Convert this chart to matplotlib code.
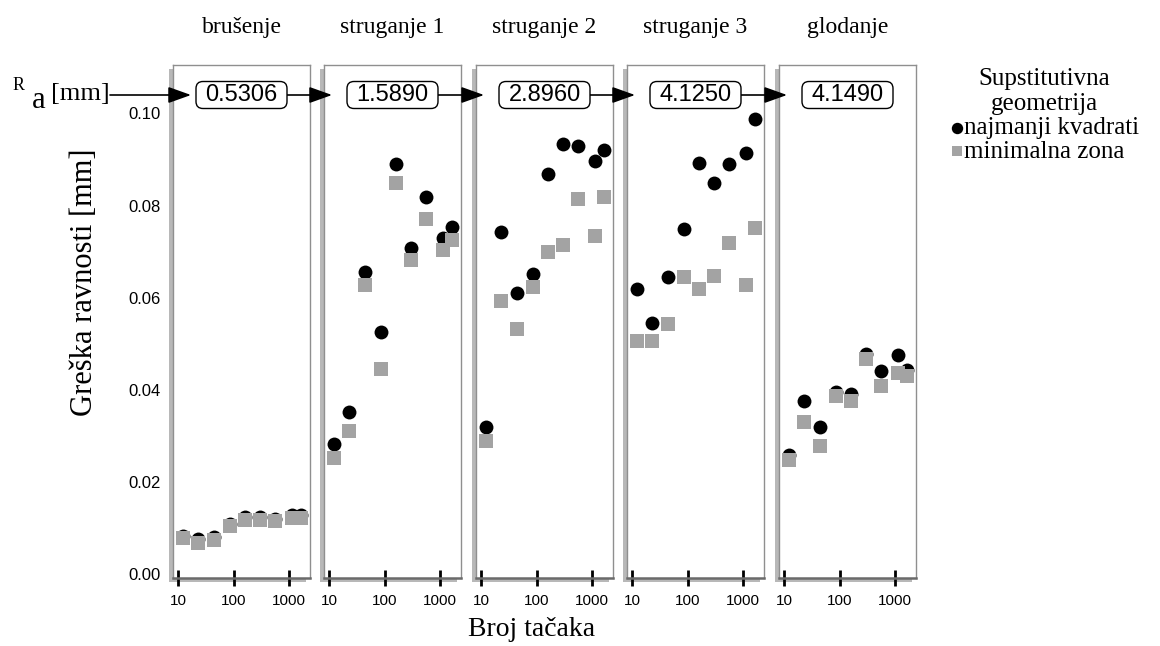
import matplotlib
matplotlib.use("Agg")
import matplotlib.pyplot as plt
from matplotlib.patches import Rectangle, FancyBboxPatch
from matplotlib.text import Annotation
from matplotlib.transforms import IdentityTransform
from matplotlib.ticker import NullLocator

W, H = 1160, 646

panel_names = ["brušenje", "struganje 1", "struganje 2", "struganje 3", "glodanje"]
ra_values = ["0.5306", "1.5890", "2.8960", "4.1250", "4.1490"]
n_points = [12, 23, 43, 84, 158, 295, 550, 1130, 1620]

# najmanji kvadrati (least squares)
brusenje_lsq = [0.0083, 0.0076, 0.0080, 0.0110, 0.0125, 0.0124, 0.0121, 0.0129, 0.0129]
struganje1_lsq = [0.0282, 0.0352, 0.0655, 0.0525, 0.0890, 0.0708, 0.0819, 0.0729, 0.0753]
struganje2_lsq = [0.0319, 0.0742, 0.0611, 0.0651, 0.0868, 0.0934, 0.0930, 0.0896, 0.0921]
struganje3_lsq = [0.0619, 0.0546, 0.0644, 0.0749, 0.0893, 0.0848, 0.0890, 0.0913, 0.0988]
glodanje_lsq = [0.0258, 0.0376, 0.0319, 0.0396, 0.0392, 0.0479, 0.0441, 0.0475, 0.0444]

# minimalna zona (minimum zone)
brusenje_mz = [0.0079, 0.0068, 0.0074, 0.0105, 0.0117, 0.0118, 0.0115, 0.0122, 0.0122]
struganje1_mz = [0.0253, 0.0311, 0.0628, 0.0445, 0.0848, 0.0681, 0.0770, 0.0704, 0.0725]
struganje2_mz = [0.0289, 0.0594, 0.0533, 0.0623, 0.0700, 0.0714, 0.0815, 0.0734, 0.0819]
struganje3_mz = [0.0506, 0.0506, 0.0542, 0.0644, 0.0619, 0.0647, 0.0718, 0.0628, 0.0751]
glodanje_mz = [0.0249, 0.0331, 0.0279, 0.0387, 0.0377, 0.0467, 0.0409, 0.0437, 0.0430]

lsq_series = [brusenje_lsq, struganje1_lsq, struganje2_lsq, struganje3_lsq, glodanje_lsq]
mz_series = [brusenje_mz, struganje1_mz, struganje2_mz, struganje3_mz, glodanje_mz]

y_ticks = [0.00, 0.02, 0.04, 0.06, 0.08, 0.10]
x_ticks = [10, 100, 1000]

plt.rcParams["font.family"] = "Liberation Serif"
SANS = "Liberation Sans"
GRAY = "#a3a3a3"


def fx(px):
    return px / W


def fy(py):
    return 1 - py / H


fig = plt.figure(figsize=(W / 100, H / 100), dpi=100)
fig.patch.set_facecolor("white")

lefts = [173, 324, 476, 627, 779]
pw, top, bottom = 137, 65, 578
box_w, box_h, box_cy = 91, 27, 95

axes = []
for i, (name, ra, lsq, mz) in enumerate(zip(panel_names, ra_values, lsq_series, mz_series)):
    left = lefts[i]
    shadow = Rectangle((fx(left - 4), fy(bottom + 4)), pw / W, (bottom - top) / H,
                       transform=fig.transFigure, fc="#b8b8b8", ec="none", zorder=-1)
    fig.add_artist(shadow)

    ax = fig.add_axes([fx(left), fy(bottom), pw / W, (bottom - top) / H])
    ax.set_facecolor("white")
    ax.scatter(n_points, lsq, s=100, marker="o", color="black", linewidths=0, zorder=2,
               label="najmanji kvadrati")
    ax.scatter(n_points, mz, s=88, marker="s", color=GRAY, linewidths=0, zorder=3,
               label="minimalna zona")
    ax.set_xscale("log")
    ax.set_xlim(8.0, 2360)
    ax.set_ylim(-0.0008, 0.1105)
    ax.set_xticks(x_ticks, labels=[str(t) for t in x_ticks])
    ax.xaxis.set_minor_locator(NullLocator())
    ax.tick_params(axis="x", direction="inout", length=11, width=2, color="black",
                   labelsize=11, pad=6)
    for lbl in ax.get_xticklabels():
        lbl.set_family(SANS)
    if i == 0:
        ax.set_yticks(y_ticks, labels=[f"{t:.2f}" for t in y_ticks])
        ax.tick_params(axis="y", length=0, pad=9, labelsize=12)
        for lbl in ax.get_yticklabels():
            lbl.set_family(SANS)
    else:
        ax.set_yticks([])
    for side in ["top", "left", "right"]:
        ax.spines[side].set_color("#8f8f8f")
        ax.spines[side].set_linewidth(1.0)
    ax.spines["bottom"].set_color("#6a6a6a")
    ax.spines["bottom"].set_linewidth(1.8)

    ax.text(0.5, (bottom - 27) / (bottom - top), name, transform=ax.transAxes,
            ha="center", va="center", fontsize=17)

    # rounded box with the Ra value
    cx = left + pw / 2
    box = FancyBboxPatch((cx - box_w / 2, H - box_cy - box_h / 2), box_w, box_h,
                         boxstyle="round,pad=0,rounding_size=7", transform=IdentityTransform(),
                         fc="white", ec="black", lw=1.0, zorder=4)
    fig.add_artist(box)
    fig.text(fx(cx), fy(box_cy), ra, ha="center", va="center", fontsize=17,
             family=SANS, zorder=5)
    axes.append(ax)

# arrows chaining the Ra boxes
arrow_spans = [(110, lefts[0] + pw / 2 - box_w / 2 - 5)]
for i in range(1, len(lefts)):
    prev_right = lefts[i - 1] + pw / 2 + box_w / 2
    arrow_spans.append((prev_right, lefts[i] + pw / 2 - box_w / 2 - 15))
for x0, x1 in arrow_spans:
    fig.add_artist(Annotation(
        "", xy=(x1, H - box_cy), xytext=(x0, H - box_cy), xycoords="figure pixels",
        textcoords="figure pixels",
        arrowprops=dict(arrowstyle="-|>,head_length=0.7,head_width=0.25",
                        mutation_scale=20, lw=1.2, color="black",
                        shrinkA=0, shrinkB=0)))

fig.text(fx(13), fy(90), "R", fontsize=13, va="baseline")
fig.text(fx(32), fy(108), "a", fontsize=22, va="baseline")
fig.text(fx(51), fy(100), "[mm]", fontsize=19, va="baseline")

fig.text(fx(85), fy(282), "Greška ravnosti [mm]", rotation=90, ha="center",
         va="center", fontsize=22)
fig.text(fx(532), fy(630), "Broj tačaka", ha="center", va="center", fontsize=20)

handles, labels = axes[0].get_legend_handles_labels()
leg = fig.legend(handles, labels, title="Supstitutivna\ngeometrija", loc="upper left",
                 bbox_to_anchor=(fx(949), fy(68)), frameon=False, borderaxespad=0,
                 prop={"family": "Liberation Serif", "size": 18},
                 title_fontproperties={"family": "Liberation Serif", "size": 18},
                 handletextpad=0.0, labelspacing=0.05, borderpad=0, handlelength=0.6,
                 markerscale=0.82)
leg.get_title().set_multialignment("center")

fig.savefig("out.png", dpi=100)
